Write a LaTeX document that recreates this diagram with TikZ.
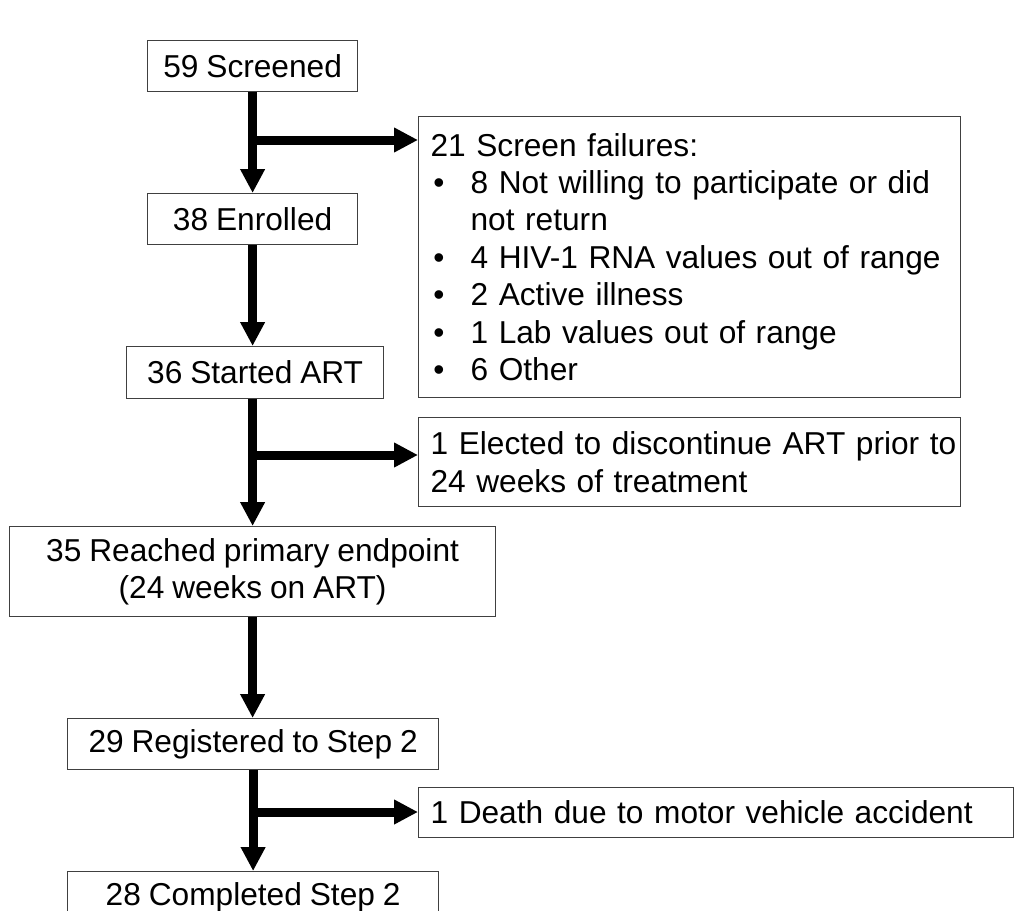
\documentclass[tikz,border=0pt]{standalone}
\usepackage{fontspec}
\setmainfont{Liberation Sans}
\usetikzlibrary{arrows.meta}
\newcommand{\boxfont}{\fontsize{23.75pt}{28.1pt}\selectfont\setlength{\spaceskip}{0.25em plus 0.05em}}
\tikzset{
  box/.style={draw=black!75, line width=0.9pt, anchor=north west, inner xsep=9pt, inner ysep=0pt,
    font=\boxfont, text=black},
  cbox/.style={box, align=center},
  lbox/.style={box, align=left},
  flow/.style={line width=6.75pt, -{Triangle[length=18pt,width=17.5pt]}}
}
\newcommand{\bul}[1]{\mbox{\hspace*{2pt}\makebox[28pt][l]{•}#1}}
\newcommand{\cont}[1]{\mbox{\hspace*{30pt}#1}}
\begin{document}
\begin{tikzpicture}[x=0.75pt,y=-0.75pt]
\useasboundingbox (0,0) rectangle (1016,910);
\node[cbox, minimum width=157.5pt, minimum height=38.25pt] (b1) at (147,40) {59 Screened};
\node[cbox, minimum width=157.5pt, minimum height=38.25pt] (b2) at (147,193) {38 Enrolled};
\node[cbox, minimum width=192.75pt, minimum height=39pt] (b3) at (126,346) {36 Started ART};
\node[lbox, minimum width=406.5pt, minimum height=210.75pt, text width=388.5pt] (sf) at (418,116)
 {\mbox{21 Screen failures:}\\
  \bul{8 Not willing to participate or did}\\
  \cont{not return}\\
  \bul{4 HIV-1 RNA values out of range}\\
  \bul{2 Active illness}\\
  \bul{1 Lab values out of range}\\
  \bul{6 Other}};
\node[lbox, minimum width=406.5pt, minimum height=66.75pt, text width=388.5pt] (el) at (418,417)
 {\mbox{1 Elected to discontinue ART prior to}\\ \mbox{24 weeks of treatment}};
\node[cbox, minimum width=364.5pt, minimum height=67.5pt] (b4) at (9,526)
 {35 Reached primary endpoint\\ (24 weeks on ART)};
\node[cbox, minimum width=278.25pt, minimum height=38.25pt] (b5) at (67,718) {29 Registered to Step 2};
\node[lbox, minimum width=446.25pt, minimum height=37.5pt, text width=428.25pt] (de) at (418,787)
 {\mbox{1 Death due to motor vehicle accident}};
\node[cbox, minimum width=278.25pt, minimum height=38.25pt] (b6) at (67,871) {28 Completed Step 2};

\coordinate (j1) at (252,140);
\coordinate (j2) at (252,455);
\coordinate (j3) at (252,812);
\draw[flow] (b1.south) -- (b2.north);
\draw[flow] (j1) -- (j1 -| sf.west);
\draw[flow] (b2.south) -- (b2.south |- b3.north);
\draw[flow] (b3.south -| b4.north) -- (b4.north);
\draw[flow] (j2) -- (j2 -| el.west);
\draw[flow] (b4.south) -- (b4.south |- b5.north);
\draw[flow] (b5.south) -- (b5.south |- b6.north);
\draw[flow] (j3) -- (j3 -| de.west);
\end{tikzpicture}
\end{document}
